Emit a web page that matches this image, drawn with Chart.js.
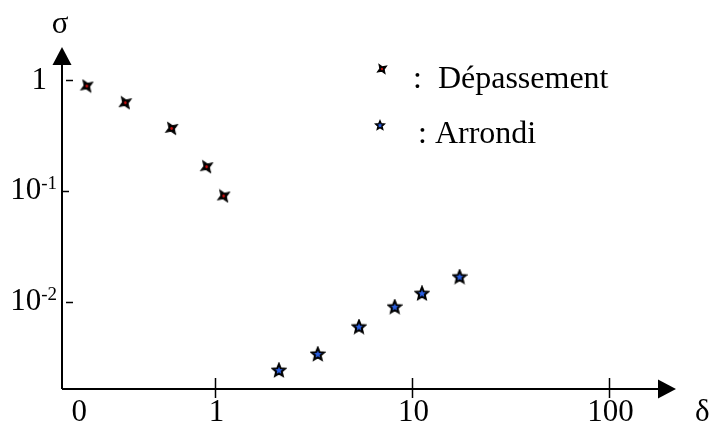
<!DOCTYPE html>
<html>
<head>
<meta charset="utf-8">
<script src="https://cdn.jsdelivr.net/npm/chart.js@4"></script>
<style>
  body { margin: 0; background: #fff; }
</style>
</head>
<body>
<canvas id="graphe" width="712" height="423"></canvas>
<script>
// valeurs (echelles log)
const depassementX = [0.222, 0.348, 0.599, 0.902, 1.10];
const depassementY = [0.883, 0.624, 0.366, 0.165, 0.0898];
const arrondiX = [2.10, 3.31, 5.36, 8.14, 11.2, 17.4];
const arrondiY = [0.00241, 0.00337, 0.00594, 0.00899, 0.0119, 0.0168];

const xTicks = [1, 10, 100];
const xTickLabels = ['1', '10', '100'];
const xOrigin = 0.203;        // le "0" sous l'origine
const xOriginLabel = '0';
const yTicks = [1, 0.1, 0.01];
const yTickBase = ['1', '10', '10'];
const yTickExp = ['', '-1', '-2'];
const legendLabels = ['Dépassement', 'Arrondi'];

const FONT = '"Liberation Serif", "Times New Roman", serif';

// marqueur "depassement" : etoile a 4 branches noire, point rouge
function markDepassement(size) {
  const c = document.createElement('canvas');
  c.width = size; c.height = size;
  const g = c.getContext('2d');
  const r = size / 2 - 0.5, ri = r * 0.4;
  g.translate(size / 2, size / 2);
  g.rotate(Math.PI / 4 + 0.2);
  g.beginPath();
  for (let i = 0; i < 8; i++) {
    const a = i * Math.PI / 4;
    const rr = i % 2 === 0 ? r : ri;
    g.lineTo(rr * Math.cos(a), rr * Math.sin(a));
  }
  g.closePath();
  g.fillStyle = '#000';
  g.fill();
  g.lineWidth = 1;
  g.strokeStyle = '#000';
  g.stroke();
  g.beginPath();
  g.arc(0, 0, Math.max(1, size * 0.09), 0, Math.PI * 2);
  g.fillStyle = '#d01010';
  g.fill();
  return c;
}

// marqueur "arrondi" : etoile a 5 branches bleue cerclee de noir
function markArrondi(size) {
  const c = document.createElement('canvas');
  c.width = size; c.height = size;
  const g = c.getContext('2d');
  const r = size / 2 - 1.5, ri = r * 0.45;
  g.translate(size / 2, size / 2 + 0.5);
  g.beginPath();
  for (let i = 0; i < 10; i++) {
    const a = -Math.PI / 2 + i * Math.PI / 5;
    const rr = i % 2 === 0 ? r : ri;
    g.lineTo(rr * Math.cos(a), rr * Math.sin(a));
  }
  g.closePath();
  g.fillStyle = '#2a5fe0';
  g.fill();
  g.lineWidth = size > 12 ? 2 : 1.5;
  g.strokeStyle = '#000';
  g.lineJoin = 'miter';
  g.stroke();
  return c;
}

const axesPlugin = {
  id: 'axes',
  afterDraw(chart) {
    const ctx = chart.ctx;
    const xs = chart.scales.x, ys = chart.scales.y;
    const x0 = xs.left, y0 = ys.bottom;
    const xEnd = xs.right, yTop = ys.top;
    ctx.save();
    ctx.strokeStyle = '#000';
    ctx.fillStyle = '#000';
    ctx.lineWidth = 2;
    // axes
    ctx.beginPath();
    ctx.moveTo(x0, y0);
    ctx.lineTo(xEnd - 16, y0);
    ctx.moveTo(x0, y0);
    ctx.lineTo(x0, yTop + 16);
    ctx.stroke();
    // fleches
    ctx.beginPath();
    ctx.moveTo(xEnd, y0);
    ctx.lineTo(xEnd - 18, y0 - 9.5);
    ctx.lineTo(xEnd - 18, y0 + 9.5);
    ctx.closePath();
    ctx.fill();
    ctx.beginPath();
    ctx.moveTo(x0, yTop);
    ctx.lineTo(x0 - 9.5, yTop + 18);
    ctx.lineTo(x0 + 9.5, yTop + 18);
    ctx.closePath();
    ctx.fill();

    // graduations x
    ctx.lineWidth = 1.5;
    ctx.font = '31px ' + FONT;
    ctx.textAlign = 'center';
    ctx.textBaseline = 'alphabetic';
    xTicks.forEach((v, i) => {
      const px = Math.round(xs.getPixelForValue(v)) + 0.5;
      ctx.beginPath();
      ctx.moveTo(px, y0 - 11);
      ctx.lineTo(px, y0 + 9);
      ctx.stroke();
      ctx.fillText(xTickLabels[i], px + 1, y0 + 32);
    });
    ctx.fillText(xOriginLabel, xs.getPixelForValue(xOrigin), y0 + 32);

    // graduations y
    yTicks.forEach((v, i) => {
      const py = Math.round(ys.getPixelForValue(v)) + 0.5;
      const off = i === 1 ? 0 : 4;
      ctx.beginPath();
      ctx.moveTo(x0 + off, py);
      ctx.lineTo(x0 + off + 7, py);
      ctx.stroke();
      const right = x0 - 5;
      ctx.textAlign = 'right';
      if (yTickExp[i]) {
        ctx.font = '19px ' + FONT;
        const ew = ctx.measureText(yTickExp[i]).width;
        ctx.fillText(yTickExp[i], right, py - 3);
        ctx.font = '31px ' + FONT;
        ctx.fillText(yTickBase[i], right - ew, py + 7);
      } else {
        ctx.font = '31px ' + FONT;
        ctx.fillText(yTickBase[i], x0 - 15, py + 8);
      }
    });

    // noms des axes
    ctx.font = '31px ' + FONT;
    ctx.textAlign = 'center';
    ctx.fillText('σ', x0 - 2, yTop - 14);
    ctx.textAlign = 'left';
    ctx.fillText('δ', xEnd + 19, y0 + 32);

    // legende
    ctx.font = '32px ' + FONT;
    ctx.drawImage(markDepassement(12), 376, 63);
    ctx.drawImage(markArrondi(12), 374, 119);
    ctx.fillText(':  ' + legendLabels[0], 413, 88);
    ctx.fillText(': ' + legendLabels[1], 418, 143);
    ctx.restore();
  }
};

const ptD = markDepassement(15);
const ptA = markArrondi(16);

new Chart(document.getElementById('graphe'), {
  type: 'scatter',
  data: {
    datasets: [{
      label: legendLabels[0],
      data: depassementX.map((x, i) => ({ x: x, y: depassementY[i] })),
      pointStyle: ptD,
      pointRadius: 8
    }, {
      label: legendLabels[1],
      data: arrondiX.map((x, i) => ({ x: x, y: arrondiY[i] })),
      pointStyle: ptA,
      pointRadius: 8
    }]
  },
  options: {
    responsive: false,
    animation: false,
    layout: { padding: { left: 62, right: 36, top: 47, bottom: 34 } },
    plugins: { legend: { display: false }, tooltip: { enabled: false } },
    scales: {
      x: { type: 'logarithmic', display: false, bounds: 'data', min: 0.166, max: 218.8 },
      y: { type: 'logarithmic', display: false, bounds: 'data', min: 0.001626, max: 1.986 }
    }
  },
  plugins: [axesPlugin]
});
</script>
</body>
</html>
